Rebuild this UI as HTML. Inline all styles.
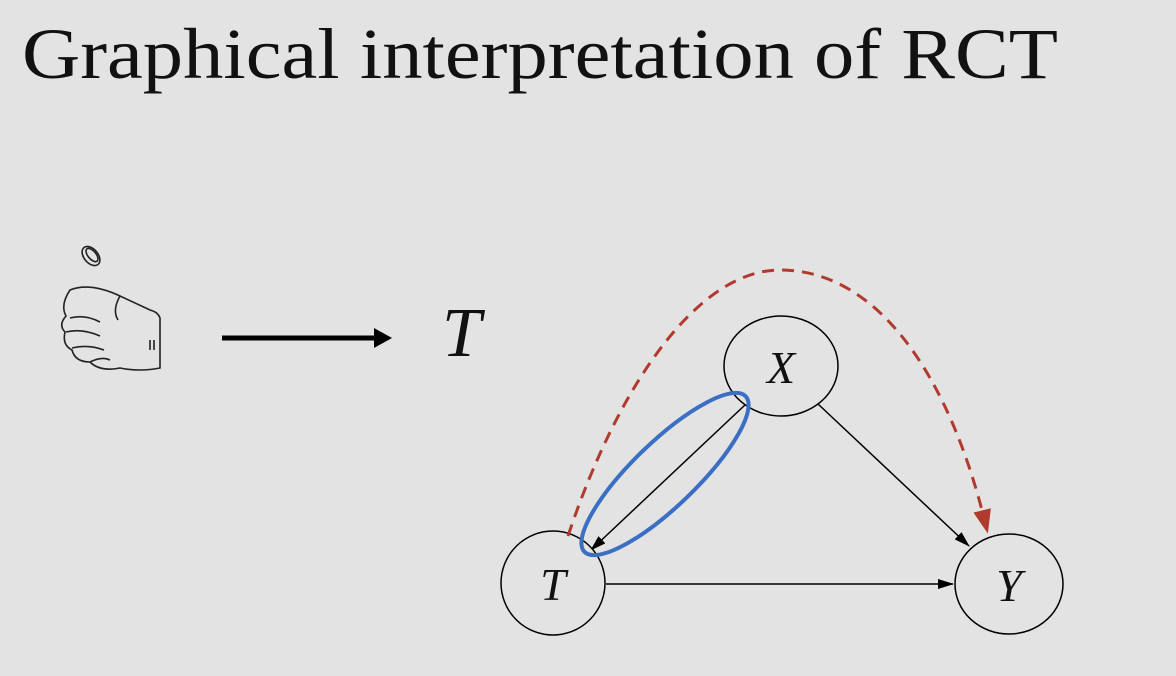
<!DOCTYPE html>
<html><head><meta charset="utf-8"><style>
html,body{margin:0;padding:0;background:#e3e3e3;}
svg{display:block;}
</style></head><body>
<svg width="1176" height="676" viewBox="0 0 1176 676" xmlns="http://www.w3.org/2000/svg">
<defs>
<marker id="ak" markerWidth="16" markerHeight="12" refX="15" refY="6" orient="auto" markerUnits="userSpaceOnUse" viewBox="0 0 16 12"><path d="M0,1 L16,6 L0,11 z" fill="#000"/></marker>
<marker id="akr" markerWidth="24" markerHeight="24" refX="12" refY="12" orient="auto" markerUnits="userSpaceOnUse" viewBox="0 0 24 24"><path d="M0,3 L24,12 L0,21 z" fill="#b03a2e"/></marker>
</defs>
<rect width="1176" height="676" fill="#e3e3e3"/>
<text x="22" y="78" font-family="'Liberation Serif',serif" font-size="72" textLength="1036" lengthAdjust="spacingAndGlyphs" fill="#111">Graphical interpretation of RCT</text>

<g fill="none" stroke="#222" stroke-width="1.6">
<ellipse cx="91" cy="256" rx="7" ry="11" transform="rotate(-40 91 256)"/>
<ellipse cx="92" cy="255" rx="4" ry="8" transform="rotate(-40 92 255)"/>
<path d="M70,290 Q90,282 120,296 L150,310 Q158,312 160,318 L160,368 Q140,372 120,368 Q100,372 90,362 Q75,362 72,350 Q62,345 65,332 Q58,325 66,316 Q60,305 70,290 z"/>
<path d="M70,318 Q85,314 100,322 M66,332 Q82,328 100,336 M72,348 Q88,344 104,350 M90,362 Q102,356 110,360"/>
<path d="M120,296 Q112,310 118,320 M150,340 L150,350 M154,340 L154,350"/>
</g>
<line x1="222" y1="338" x2="378" y2="338" stroke="#000" stroke-width="5"/>
<path d="M374,328 L392,338 L374,348 z" fill="#000"/>
<text x="442" y="356" font-family="'Liberation Serif',serif" font-style="italic" font-size="70" fill="#111">T</text>

<line x1="746" y1="404" x2="591" y2="550" stroke="#000" stroke-width="1.5" marker-end="url(#ak)"/>
<line x1="818" y1="404" x2="969" y2="546" stroke="#000" stroke-width="1.5" marker-end="url(#ak)"/>
<line x1="606" y1="584" x2="953" y2="584" stroke="#000" stroke-width="1.5" marker-end="url(#ak)"/>

<g>
<ellipse cx="781" cy="366" rx="57" ry="50" fill="#e3e3e3" stroke="#000" stroke-width="1.5"/>
<text x="781" y="383" text-anchor="middle" font-family="'Liberation Serif',serif" font-style="italic" font-size="46" fill="#111">X</text>
</g>
<g>
<ellipse cx="553" cy="583" rx="52" ry="52" fill="#e3e3e3" stroke="#000" stroke-width="1.5"/>
<text x="553" y="600" text-anchor="middle" font-family="'Liberation Serif',serif" font-style="italic" font-size="46" fill="#111">T</text>
</g>
<g>
<ellipse cx="1009" cy="584" rx="54" ry="50" fill="#e3e3e3" stroke="#000" stroke-width="1.5"/>
<text x="1009" y="601" text-anchor="middle" font-family="'Liberation Serif',serif" font-style="italic" font-size="46" fill="#111">Y</text>
</g>

<ellipse cx="665" cy="474" rx="112" ry="32" transform="rotate(-44 665 474)" fill="none" stroke="#3a6fc4" stroke-width="4"/>
<path d="M568,536 C620,380 700,270 780,270 C880,270 950,380 985,522" fill="none" stroke="#b03a2e" stroke-width="3" stroke-dasharray="12,8" marker-end="url(#akr)"/>
</svg>
</body></html>
